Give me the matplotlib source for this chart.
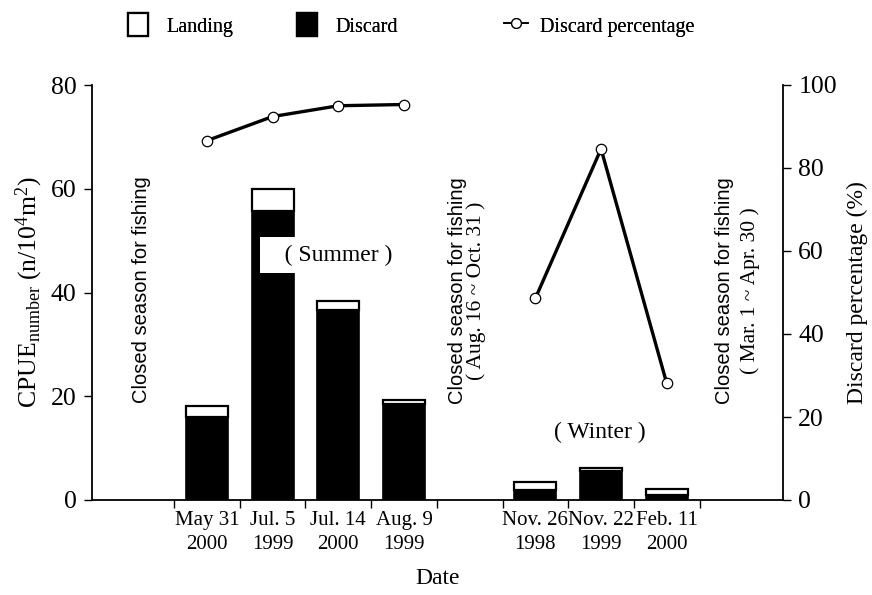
import numpy as np
import matplotlib
matplotlib.use("Agg")
import matplotlib.pyplot as plt
from matplotlib.patches import Patch
from matplotlib.lines import Line2D

plt.rcParams['font.family'] = ['Liberation Serif', 'DejaVu Serif']
plt.rcParams['mathtext.fontset'] = 'custom'
plt.rcParams['mathtext.rm'] = 'Liberation Serif'
plt.rcParams['mathtext.it'] = 'Liberation Serif:italic'

# ---- data ----
dates = ["May 31\n2000", "Jul. 5\n1999", "Jul. 14\n2000", "Aug. 9\n1999",
         "Nov. 26\n1998", "Nov. 22\n1999", "Feb. 11\n2000"]
seasons = ["Summer", "Summer", "Summer", "Summer", "Winter", "Winter", "Winter"]
discard = [16.0, 55.7, 36.6, 18.6, 1.9, 5.5, 1.0]
landing = [2.2, 4.3, 1.7, 0.7, 1.6, 0.6, 1.1]
discard_pct = [86.6, 92.4, 95.0, 95.3, 48.6, 84.6, 28.1]

# positions: summer 0..3, one empty slot (closed season), winter after it
seas = np.array(seasons)
x = np.arange(len(dates)) + (seas == "Winter").astype(int)
discard = np.array(discard)
landing = np.array(landing)
pct = np.array(discard_pct)

fig = plt.figure(figsize=(8.72, 5.95), dpi=100)
ax = fig.add_axes([92/872, 1-500/595, (783-92)/872, (500-85)/595])
ax2 = ax.twinx()

bw = 0.64
ax.bar(x, discard, width=bw, color='black', edgecolor='black', linewidth=1.2, zorder=2)
ax.bar(x, landing, bottom=discard, width=bw, color='white', edgecolor='black', linewidth=1.6, zorder=2)

for s in ["Summer", "Winter"]:
    m = seas == s
    ax2.plot(x[m], pct[m], color='black', lw=2.4, marker='o', ms=7.5,
             mfc='white', mec='black', mew=0.9, zorder=3)

ax.set_xlim(-1.75, 8.77)
ax.set_ylim(0, 80)
ax2.set_ylim(0, 100)
ax.set_yticks([0, 20, 40, 60, 80])
ax2.set_yticks([0, 20, 40, 60, 80, 100])

ax.set_xticks(np.arange(-0.5, 8.0, 1.0))
ax.set_xticklabels([])
ax.set_xticks(x, minor=True)
ax.set_xticklabels(dates, minor=True, fontsize=15, linespacing=1.35)
ax.tick_params(axis='x', which='major', direction='out', length=6, width=1)
ax.tick_params(axis='x', which='minor', length=0, pad=8)
ax.tick_params(axis='y', direction='out', length=6, width=1, labelsize=18.5, pad=5)
ax2.tick_params(axis='y', direction='out', length=6, width=1, labelsize=18.5, pad=5)

for a in (ax, ax2):
    a.spines['top'].set_visible(False)
    for sp in a.spines.values():
        sp.set_linewidth(1.3)
ax.spines['right'].set_visible(False)
ax2.spines['left'].set_visible(False)
ax2.spines['bottom'].set_visible(False)

ax.set_xlabel("Date", fontsize=17, labelpad=10)
ax.set_ylabel(r"CPUE$_{\mathrm{number}}$ (n/10$^{4}$m$^{2}$)", fontsize=18.5, labelpad=4)
ax2.set_ylabel("Discard percentage (%)", fontsize=17, labelpad=7)

ax.set_zorder(ax2.get_zorder() + 1)
ax.patch.set_visible(False)

sans = ['Liberation Sans', 'DejaVu Sans']
cs = "Closed season for fishing"
ax.text(-1.0, 40.6, cs, rotation=90, ha='center', va='center', fontsize=14.5, family=sans)
ax.text(3.81, 40.3, cs, rotation=90, ha='center', va='center', fontsize=14.5, family=sans)
ax.text(4.10, 40.3, "( Aug. 16 ~ Oct. 31 )", rotation=90, ha='center', va='center', fontsize=15.5)
ax.text(7.88, 40.3, cs, rotation=90, ha='center', va='center', fontsize=14.5, family=sans)
ax.text(8.27, 40.3, "( Mar. 1 ~ Apr. 30 )", rotation=90, ha='center', va='center', fontsize=15.5)

ax.text(0.91, 47.2, "   ( Summer )   ", ha='left', va='center', fontsize=17, zorder=5,
        bbox=dict(boxstyle='square,pad=0.3', fc='white', ec='none'))
ax.text(5.98, 13.1, "( Winter )", ha='center', va='center', fontsize=17, zorder=5)

# legend
h1 = Patch(facecolor='white', edgecolor='black', linewidth=1.6)
h2 = Patch(facecolor='black', edgecolor='black', linewidth=1.6)
h3 = Line2D([], [], color='black', lw=1.2, marker='o', ms=7, mfc='white', mec='black', mew=0.9)
for h, lab, xp in [(h1, "Landing", 128/872), (h2, "Discard", 297/872), (h3, "Discard percentage", 504/872)]:
    lg = fig.legend([h], [lab], loc='center left', bbox_to_anchor=(xp, 1-25/595),
                    frameon=False, fontsize=14.5, handlelength=1.0 if h is not h3 else 1.2,
                    handleheight=1.35, handletextpad=0.9 if h is not h3 else 0.6,
                    borderpad=0, borderaxespad=0)
    fig.add_artist(lg)

fig.savefig("out.png", dpi=100)
